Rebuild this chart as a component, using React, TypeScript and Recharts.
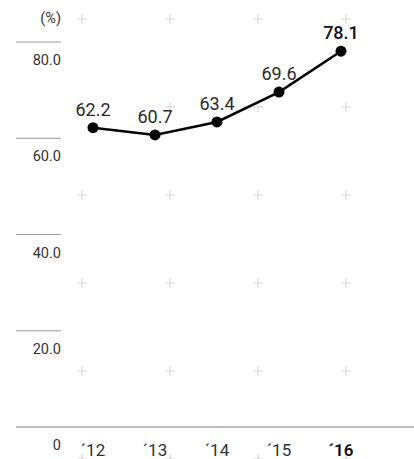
import React from 'react';
import { LineChart, Line, XAxis, YAxis, LabelList } from 'recharts';

const years = ['´12', '´13', '´14', '´15', '´16'];
const ratio = [62.2, 60.7, 63.4, 69.6, 78.1];
const yTicks = [0, 20, 40, 60, 80];

const data = years.map((year, i) => ({ year, value: ratio[i] }));

const FONT = "'Roboto', sans-serif";
const lastYear = years[years.length - 1];

const YTick = (props: any) => {
  const { y, payload } = props;
  const v = payload.value;
  return (
    <g>
      {v !== 0 && <line x1={16} x2={61} y1={y} y2={y} stroke="#9a9a9a" strokeWidth={1} />}
      <text x={61} y={y + 23} textAnchor="end" fontSize={14.5} fill="#333" fontFamily={FONT}>
        {v === 0 ? '0' : v.toFixed(1)}
      </text>
    </g>
  );
};

const XTick = (props: any) => {
  const { x, y, payload } = props;
  const last = payload.value === lastYear;
  return (
    <text x={x} y={y + 21} textAnchor="middle" fontSize={17} fill={last ? '#111' : '#333'}
      fontWeight={last ? 600 : 400} fontFamily={FONT}>
      {payload.value}
    </text>
  );
};

const ValueLabel = (props: any) => {
  const { x, y, value, index } = props;
  const last = index === ratio.length - 1;
  return (
    <text x={x} y={y - 12} textAnchor="middle" fontSize={18} fill={last ? '#111' : '#2a2a2a'}
      fontWeight={last ? 500 : 400} fontFamily={FONT}>
      {value.toFixed(1)}
    </text>
  );
};

const App = () => {
  return (
    <div style={{ position: 'absolute', left: 0, top: 0, width: 414, height: 459, background: '#fff' }}>
      <svg width={414} height={459} style={{ position: 'absolute', left: 0, top: 0 }}>
        <defs>
          <pattern id="plus" patternUnits="userSpaceOnUse" x={38} y={-25} width={88} height={88}>
            <line x1={39} x2={49} y1={44} y2={44} stroke="#d0d0d0" strokeWidth={1} />
            <line x1={44} x2={44} y1={39} y2={49} stroke="#d0d0d0" strokeWidth={1} />
          </pattern>
        </defs>
        <rect x={0} y={0} width={414} height={459} fill="url(#plus)" />
      </svg>
      <div style={{ position: 'absolute', left: 0, top: 0 }}>
        <LineChart width={414} height={459} data={data} margin={{ top: 18, right: 0, bottom: 0, left: 0 }}>
          <XAxis
            dataKey="year"
            height={32}
            padding={{ left: 77, right: 73 }}
            axisLine={{ stroke: '#aaa', strokeWidth: 1.5 }}
            tickLine={false}
            tick={<XTick />}
            interval={0}
          />
          <YAxis
            width={16}
            domain={[0, 85]}
            ticks={yTicks}
            axisLine={false}
            tickLine={false}
            tick={<YTick />}
            interval={0}
            label={{
              content: () => (
                <text x={61} y={23} textAnchor="end" fontSize={14.5} fill="#333" fontFamily={FONT}>(%)</text>
              ),
            }}
          />
          <Line
            dataKey="value"
            stroke="#000"
            strokeWidth={2.5}
            dot={{ r: 5.5, fill: '#000', stroke: '#000', strokeWidth: 0 }}
            isAnimationActive={false}
          >
            <LabelList dataKey="value" content={<ValueLabel />} />
          </Line>
        </LineChart>
      </div>
    </div>
  );
};

export default App;
